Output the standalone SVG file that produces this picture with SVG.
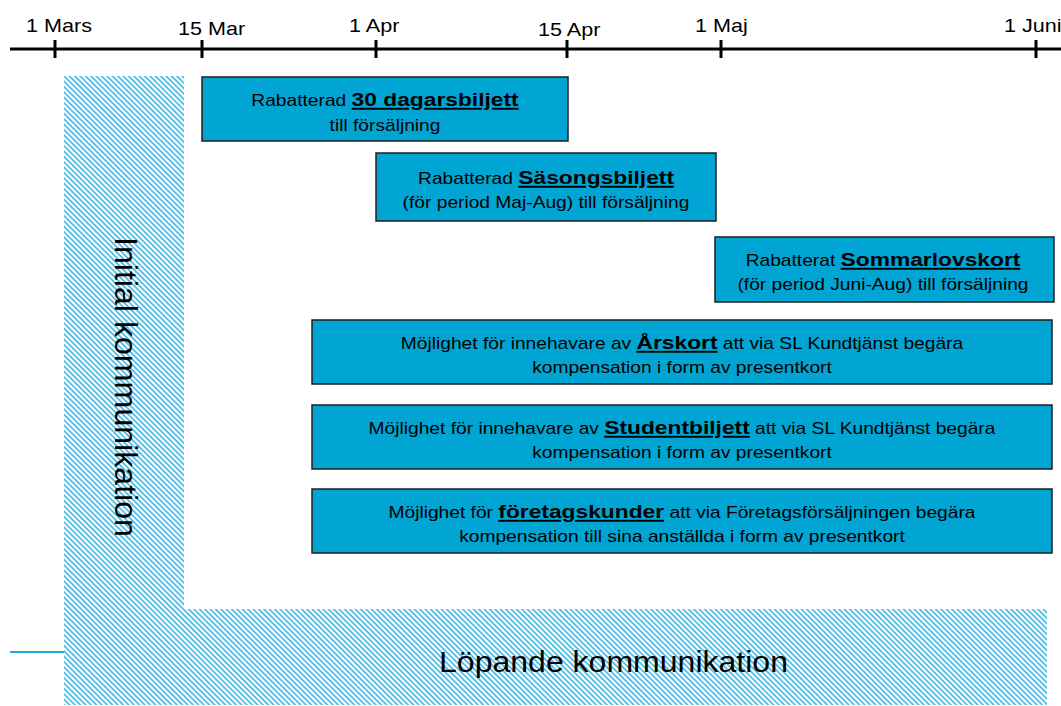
<svg xmlns="http://www.w3.org/2000/svg" width="1061" height="706" viewBox="0 0 1061 706">
<style>
text { font-family: "Liberation Sans", Arial, sans-serif; fill: #000; }
.lbl { font-size: 18px; }
.bt { font-size: 16px; text-anchor: middle; }
.b { font-weight: bold; font-size: 19px; text-decoration: underline; }
.box { fill: #00A5D3; stroke: #1f1f1f; stroke-width: 1.5; }
.axis { stroke: #000; stroke-width: 3; fill: none; }
.big { font-size: 29px; }
</style>
<defs>
<pattern id="hatch" patternUnits="userSpaceOnUse" width="3.8" height="3.8" patternTransform="rotate(45)">
<rect x="0" y="0" width="3.8" height="3.8" fill="#ffffff"/>
<rect x="0" y="0" width="3.8" height="1.7" fill="#45B9E5"/>
</pattern>
</defs>
<rect width="1061" height="706" fill="#ffffff"/>

<g id="timeline">
<line class="axis" x1="10" y1="49" x2="1061" y2="49"/>
<line class="axis" x1="55" y1="40" x2="55" y2="58"/>
<line class="axis" x1="202" y1="40" x2="202" y2="58"/>
<line class="axis" x1="376" y1="40" x2="376" y2="58"/>
<line class="axis" x1="567" y1="40" x2="567" y2="58"/>
<line class="axis" x1="721" y1="40" x2="721" y2="58"/>
<line class="axis" x1="1036" y1="40" x2="1036" y2="58"/>
<text class="lbl" transform="translate(26,32) scale(1.2,1)">1 Mars</text>
<text class="lbl" transform="translate(178,35) scale(1.2,1)">15 Mar</text>
<text class="lbl" transform="translate(349,32) scale(1.2,1)">1 Apr</text>
<text class="lbl" transform="translate(538,36) scale(1.2,1)">15 Apr</text>
<text class="lbl" transform="translate(695,32) scale(1.2,1)">1 Maj</text>
<text class="lbl" transform="translate(1004,32) scale(1.2,1)">1 Juni</text>
</g>

<g id="communication">
<path d="M64,76 H184 V609 H1047 V705 H64 Z" fill="url(#hatch)"/>
<line x1="10" y1="652" x2="64" y2="652" stroke="#1AA7DF" stroke-width="2"/>
<text class="big" style="font-size:31px" transform="translate(115,237) rotate(90)" textLength="300" lengthAdjust="spacingAndGlyphs">Initial kommunikation</text>
<text class="big" x="439" y="672" textLength="349" lengthAdjust="spacingAndGlyphs">Löpande kommunikation</text>
</g>

<g id="connectors"></g>

<g id="box1">
<rect class="box" x="202" y="77" width="366" height="64"/>
<text class="bt" transform="translate(385,106) scale(1.2,1)">Rabatterad <tspan class="b">30 dagarsbiljett</tspan></text>
<text class="bt" transform="translate(385,131) scale(1.2,1)">till försäljning</text>
</g>

<g id="box2">
<rect class="box" x="376" y="153" width="340" height="68"/>
<text class="bt" transform="translate(546,184) scale(1.2,1)">Rabatterad <tspan class="b">Säsongsbiljett</tspan></text>
<text class="bt" transform="translate(546,208) scale(1.2,1)">(för period Maj-Aug) till försäljning</text>
</g>

<g id="box3">
<rect class="box" x="715" y="237" width="339" height="65"/>
<text class="bt" transform="translate(883,266) scale(1.2,1)">Rabatterat <tspan class="b">Sommarlovskort</tspan></text>
<text class="bt" transform="translate(883,290) scale(1.2,1)">(för period Juni-Aug) till försäljning</text>
</g>

<g id="box4">
<rect class="box" x="312" y="320" width="740" height="64"/>
<text class="bt" transform="translate(682,349) scale(1.2,1)">Möjlighet för innehavare av <tspan class="b">Årskort</tspan> att via SL Kundtjänst begära</text>
<text class="bt" transform="translate(682,373) scale(1.2,1)">kompensation i form av presentkort</text>
</g>

<g id="box5">
<rect class="box" x="312" y="405" width="740" height="64"/>
<text class="bt" transform="translate(682,434) scale(1.2,1)">Möjlighet för innehavare av <tspan class="b">Studentbiljett</tspan> att via SL Kundtjänst begära</text>
<text class="bt" transform="translate(682,458) scale(1.2,1)">kompensation i form av presentkort</text>
</g>

<g id="box6">
<rect class="box" x="312" y="489" width="740" height="64"/>
<text class="bt" transform="translate(682,518) scale(1.2,1)">Möjlighet för <tspan class="b">företagskunder</tspan> att via Företagsförsäljningen begära</text>
<text class="bt" transform="translate(682,542) scale(1.2,1)">kompensation till sina anställda i form av presentkort</text>
</g>
</svg>
